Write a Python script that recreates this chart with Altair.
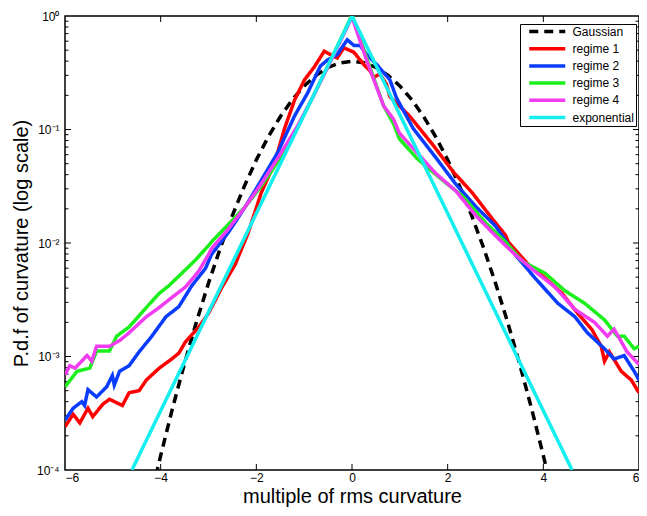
import altair as alt
import pandas as pd

# ---- data ----
gauss_x = [-4.1, -4.0, -3.75, -3.5, -3.25, -3.0, -2.75, -2.5, -2.25, -2.0, -1.75, -1.5, -1.25, -1.0, -0.75, -0.5, -0.25,
           0.0, 0.25, 0.5, 0.75, 1.0, 1.25, 1.5, 1.75, 2.0, 2.25, 2.5, 2.75, 3.0, 3.25, 3.5, 3.75, 4.0, 4.1]
gauss_y = [8.9e-5, 1.34e-4, 3.53e-4, 8.73e-4, 2.03e-3, 4.43e-3, 9.09e-3, 0.0175, 0.0317, 0.054, 0.0863, 0.1295, 0.1826,
           0.242, 0.3011, 0.3521, 0.3867, 0.3989, 0.3867, 0.3521, 0.3011, 0.242, 0.1826, 0.1295, 0.0863, 0.054, 0.0317,
           0.0175, 9.09e-3, 4.43e-3, 2.03e-3, 8.73e-4, 3.53e-4, 1.34e-4, 8.9e-5]

r1_x = [-6.0, -5.83, -5.69, -5.52, -5.42, -5.21, -5.07, -4.80, -4.66, -4.45, -4.30, -4.03, -3.77, -3.62, -3.48, -3.21,
        -3.0, -2.73, -2.44, -2.17, -1.90, -1.61, -1.41, -1.20, -0.99, -0.79, -0.58, -0.45, -0.31, -0.17, 0.04, 0.25,
        0.37, 0.46, 0.58, 0.72, 0.79, 1.20, 1.70, 2.11, 2.52, 2.94, 3.21, 3.27, 3.68, 4.04, 4.39, 4.72, 5.01, 5.21,
        5.28, 5.38, 5.63, 5.84, 6.0]
r1_y = [2.4e-4, 3.1e-4, 2.6e-4, 3.5e-4, 2.95e-4, 3.8e-4, 4.2e-4, 3.7e-4, 4.8e-4, 5.0e-4, 6.2e-4, 7.9e-4, 9.5e-4,
        1.07e-3, 1.35e-3, 1.8e-3, 2.4e-3, 4.0e-3, 6.5e-3, 0.0123, 0.0275, 0.052, 0.102, 0.182, 0.275, 0.355, 0.49,
        0.457, 0.427, 0.525, 0.479, 0.372, 0.331, 0.288, 0.309, 0.251, 0.195, 0.132, 0.0724, 0.0427, 0.0275, 0.0162,
        0.0117, 0.0102, 6.5e-3, 4.9e-3, 3.6e-3, 2.4e-3, 1.74e-3, 1.23e-3, 9.1e-4, 1.1e-3, 7.4e-4, 6.2e-4, 4.8e-4]

r2_x = [-6.0, -5.83, -5.65, -5.59, -5.52, -5.34, -5.13, -5.01, -4.97, -4.86, -4.66, -4.45, -4.20, -3.89, -3.62, -3.35,
        -3.06, -2.94, -2.59, -2.23, -1.90, -1.55, -1.20, -0.93, -0.66, -0.52, -0.31, -0.10, 0.04, 0.17, 0.31, 0.52,
        0.79, 0.93, 1.28, 1.76, 2.17, 2.59, 3.0, 3.41, 3.83, 4.30, 4.66, 4.92, 5.28, 5.48, 5.69, 5.90, 6.0]
r2_y = [2.75e-4, 3.5e-4, 4.0e-4, 3.7e-4, 5.1e-4, 4.4e-4, 5.4e-4, 6.8e-4, 5.6e-4, 7.4e-4, 8.3e-4, 1.1e-3, 1.48e-3,
        2.24e-3, 2.75e-3, 4.2e-3, 6.0e-3, 7.9e-3, 0.0123, 0.0209, 0.0355, 0.063, 0.132, 0.209, 0.363, 0.407, 0.457,
        0.617, 0.55, 0.55, 0.457, 0.372, 0.275, 0.19, 0.102, 0.056, 0.033, 0.0209, 0.0141, 7.9e-3, 4.9e-3, 2.95e-3,
        2.24e-3, 1.62e-3, 1.17e-3, 9.5e-4, 1.02e-3, 7.4e-4, 6.2e-4]

r3_x = [-6.0, -5.75, -5.48, -5.34, -5.07, -4.92, -4.66, -4.30, -4.03, -3.83, -3.56, -3.27, -3.0, -2.94, -2.59, -2.23,
        -1.90, -1.55, -1.20, -0.8, -0.4, 0.0, 0.33, 0.66, 0.87, 0.99, 1.35, 1.90, 2.32, 2.79, 3.21, 3.56, 4.04, 4.45,
        4.86, 5.28, 5.55, 5.69, 5.90, 6.0]
r3_y = [5.4e-4, 7.4e-4, 7.9e-4, 1.12e-3, 1.12e-3, 1.51e-3, 1.82e-3, 2.7e-3, 3.6e-3, 4.2e-3, 5.4e-3, 7.1e-3, 9.5e-3,
        0.0102, 0.0145, 0.0209, 0.0316, 0.052, 0.093, 0.20, 0.447, 1.02, 0.40, 0.162, 0.112, 0.083, 0.056, 0.0355,
        0.0257, 0.0151, 0.0102, 6.9e-3, 5.4e-3, 3.8e-3, 2.95e-3, 2.1e-3, 1.51e-3, 1.51e-3, 1.17e-3, 1.23e-3]

r4_x = [-6.0, -5.90, -5.79, -5.54, -5.44, -5.34, -5.07, -4.86, -4.66, -4.30, -4.03, -3.77, -3.48, -3.21, -3.0, -2.94,
        -2.59, -2.23, -1.90, -1.55, -1.14, -0.8, -0.4, 0.0, 0.33, 0.66, 0.87, 0.99, 1.35, 1.76, 2.17, 2.59, 2.94, 3.21,
        3.41, 3.83, 4.24, 4.66, 5.07, 5.34, 5.48, 5.75, 6.0]
r4_y = [6.9e-4, 8.3e-4, 7.9e-4, 1.02e-3, 9.1e-4, 1.23e-3, 1.23e-3, 1.38e-3, 1.62e-3, 2.24e-3, 2.7e-3, 3.3e-3, 4.1e-3,
        5.6e-3, 7.9e-3, 8.9e-3, 0.0132, 0.0209, 0.0331, 0.056, 0.107, 0.20, 0.437, 0.98, 0.38, 0.162, 0.123, 0.093,
        0.063, 0.0407, 0.0288, 0.0174, 0.0123, 9.5e-3, 7.9e-3, 5.6e-3, 4.1e-3, 2.6e-3, 2.0e-3, 1.51e-3, 1.74e-3,
        1.1e-3, 8.5e-4]

expo_x = [-4.6, 0.0, 4.6]
expo_y = [1.0e-4, 1.0, 1.0e-4]

series_names = ["Gaussian", "regime 1", "regime 2", "regime 3", "regime 4", "exponential"]
series_colors = ["#000000", "#ff0000", "#0a3cff", "#1cf01c", "#f23cf2", "#14eeee"]
series_dash = [[9, 6], [1, 0], [1, 0], [1, 0], [1, 0], [1, 0]]

x_ticks = [-6, -4, -2, 0, 2, 4, 6]
y_major = [1e-4, 1e-3, 1e-2, 1e-1, 1.0]
y_minor = [m * d for d in [1e-4, 1e-3, 1e-2, 1e-1] for m in [2, 3, 4, 5, 6, 7, 8, 9]]

FONT = "Liberation Sans"
W, H = 574, 454

frames = []
for name, xs, ys in zip(series_names,
                        [gauss_x, r1_x, r2_x, r3_x, r4_x, expo_x],
                        [gauss_y, r1_y, r2_y, r3_y, r4_y, expo_y]):
    frames.append(pd.DataFrame({"x": xs, "y": ys, "series": name, "idx": list(range(len(xs)))}))
df = pd.concat(frames, ignore_index=True)

xscale = alt.Scale(domain=[-6, 6], nice=False, zero=False)
yscale = alt.Scale(type="log", domain=[1e-4, 1], nice=False)
XTITLE = "multiple of rms curvature"
YTITLE = "P.d.f of curvature (log scale)"

legend = alt.Legend(
    title=None, orient="none", legendX=455, legendY=8,
    strokeColor="black", fillColor="white", padding=1.5,
    symbolType="M0.44,0H9.44", symbolSize=64, symbolStrokeWidth=3.5,
    labelFont=FONT, labelFontSize=12, labelColor="black", labelOffset=39, rowPadding=3.2,
    labelExpr="datum.label == 'regime 2' ? '\u00a0regime 2' : datum.label",
)

color_enc = alt.Color("series:N", scale=alt.Scale(domain=series_names, range=series_colors), legend=legend)
dash_enc = alt.StrokeDash("series:N", scale=alt.Scale(domain=series_names, range=series_dash), legend=legend)

xenc = alt.X("x:Q", scale=xscale, axis=alt.Axis(values=x_ticks, title=XTITLE, labelPadding=2, titlePadding=3))
yenc = alt.Y("y:Q", scale=yscale, axis=alt.Axis(
    values=y_major, title=YTITLE, labelPadding=6, titlePadding=5,
    labelExpr="datum.value >= 0.5 ? '10\u2070' : datum.value >= 0.05 ? '10\u207b\u00b9' : "
              "datum.value >= 0.005 ? '10\u207b\u00b2' : datum.value >= 0.0005 ? '10\u207b\u00b3' : '10\u207b\u2074'"))

base = alt.Chart(df)
layers = []
for name in series_names:
    layers.append(
        base.transform_filter(alt.datum.series == name)
        .mark_line(strokeWidth=3.5, clip=True)
        .encode(x=xenc, y=yenc, color=color_enc, strokeDash=dash_enc, order="idx:Q")
    )

ymaj_df = pd.DataFrame({"v": y_major[1:-1]})
ymin_df = pd.DataFrame({"v": y_minor})
xt_df = pd.DataFrame({"v": x_ticks[1:-1]})

ytick_enc = alt.Y("v:Q", scale=yscale, title=YTITLE)
xtick_enc = alt.X("v:Q", scale=xscale, title=XTITLE)

tick_layers = [
    alt.Chart(ymaj_df).mark_rule(color="black", strokeWidth=1).encode(y=ytick_enc, x=alt.value(0), x2=alt.value(6)),
    alt.Chart(ymaj_df).mark_rule(color="black", strokeWidth=1).encode(y=ytick_enc, x=alt.value(W), x2=alt.value(W - 6)),
    alt.Chart(ymin_df).mark_rule(color="black", strokeWidth=1).encode(y=ytick_enc, x=alt.value(0), x2=alt.value(3.5)),
    alt.Chart(ymin_df).mark_rule(color="black", strokeWidth=1).encode(y=ytick_enc, x=alt.value(W), x2=alt.value(W - 3.5)),
    alt.Chart(xt_df).mark_rule(color="black", strokeWidth=1).encode(x=xtick_enc, y=alt.value(0), y2=alt.value(6)),
    alt.Chart(xt_df).mark_rule(color="black", strokeWidth=1).encode(x=xtick_enc, y=alt.value(H), y2=alt.value(H - 6)),
]

chart = alt.layer(*tick_layers, *layers).properties(
    width=W, height=H,
    autosize=alt.AutoSizeParams(type="none"),
    padding={"left": 57, "top": 8, "right": 0, "bottom": 38},
).configure_view(
    stroke="black", strokeWidth=1.5
).configure_axis(
    domain=False, ticks=False, grid=False,
    labelFont=FONT, labelFontSize=12, labelColor="black",
    titleFont=FONT, titleFontSize=20, titleFontWeight="normal", titleColor="black",
)

chart.save("out.html", embed_options={"renderer": "svg", "actions": False})
